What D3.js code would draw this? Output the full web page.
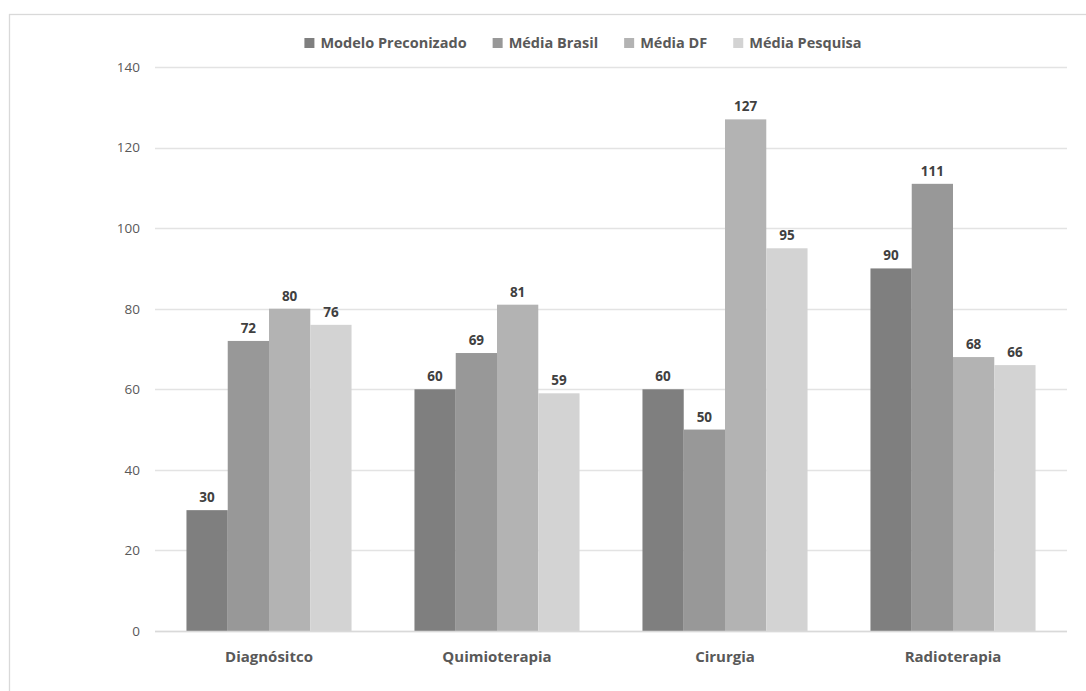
<!DOCTYPE html>
<html><head><meta charset="utf-8">
<script src="https://cdn.jsdelivr.net/npm/d3@7"></script>
<style>body{margin:0;background:#fff}svg{display:block}</style>
</head><body>
<svg id="c" width="1086" height="691"></svg>
<script>
const categories = ["Diagnósitco", "Quimioterapia", "Cirurgia", "Radioterapia"];
const seriesNames = ["Modelo Preconizado", "Média Brasil", "Média DF", "Média Pesquisa"];
const modeloPreconizado = [30, 60, 60, 90];
const mediaBrasil = [72, 69, 50, 111];
const mediaDF = [80, 81, 127, 68];
const mediaPesquisa = [76, 59, 95, 66];
const yTicks = [0, 20, 40, 60, 80, 100, 120, 140];
const colors = ["#7f7f7f", "#989898", "#b3b3b3", "#d3d3d3"];

const seriesValues = [modeloPreconizado, mediaBrasil, mediaDF, mediaPesquisa];
const FONT = "'Open Sans', sans-serif";
const svg = d3.select("#c");

// outer border
svg.append("rect").attr("x", 9.5).attr("y", 14.5).attr("width", 1100).attr("height", 700)
  .attr("fill", "none").attr("stroke", "#d9d9d9").attr("stroke-width", 1.3);

const x0 = d3.scaleBand().domain(categories).range([155, 1067]).paddingInner(0.276).paddingOuter(0.138);
const x1 = d3.scaleBand().domain(seriesNames).range([0, x0.bandwidth()]).padding(0);
const y = d3.scaleLinear().domain([0, 140]).range([631, 67]);

// gridlines
svg.append("g").selectAll("line").data(yTicks).join("line")
  .attr("x1", 155).attr("x2", 1067)
  .attr("y1", d => Math.round(y(d)) + 0.5).attr("y2", d => Math.round(y(d)) + 0.5)
  .attr("stroke", "#e3e3e3").attr("stroke-width", 1.3);

// y axis labels
const yAxis = d3.axisLeft(y).tickValues(yTicks).tickSize(0).tickPadding(0);
const gy = svg.append("g").attr("transform", "translate(140,0)").call(yAxis);
gy.select(".domain").remove();
gy.selectAll("text").attr("fill", "#595959").style("font-family", FONT).style("font-size", "13.5px");

// bars
const groups = svg.append("g").selectAll("g").data(categories).join("g")
  .attr("transform", d => `translate(${x0(d)},0)`);
groups.selectAll("rect").data((c, i) => seriesNames.map((s, j) => ({s, j, v: seriesValues[j][i]}))).join("rect")
  .attr("x", d => x1(d.s)).attr("width", x1.bandwidth())
  .attr("y", d => y(d.v)).attr("height", d => y(0) - y(d.v))
  .attr("fill", d => colors[d.j]);
groups.selectAll("text").data((c, i) => seriesNames.map((s, j) => ({s, j, v: seriesValues[j][i]}))).join("text")
  .attr("x", d => x1(d.s) + x1.bandwidth() / 2).attr("y", d => y(d.v) - 8)
  .attr("text-anchor", "middle").attr("fill", "#404040")
  .style("font-family", FONT).style("font-size", "13.5px").style("font-weight", "bold")
  .text(d => d.v);

// x axis baseline
svg.append("line").attr("x1", 155).attr("x2", 1067).attr("y1", 631.5).attr("y2", 631.5)
  .attr("stroke", "#d9d9d9").attr("stroke-width", 1.3);

// category labels
const xAxis = d3.axisBottom(x0).tickSize(0).tickPadding(0);
const gx = svg.append("g").attr("transform", "translate(0,651)").call(xAxis);
gx.select(".domain").remove();
gx.selectAll("text").attr("fill", "#595959").style("font-family", FONT).style("font-size", "15px").style("font-weight", "bold");

// legend
const leg = svg.append("g");
const items = leg.selectAll("g").data(seriesNames).join("g");
items.append("rect").attr("width", 10).attr("height", 10).attr("y", -5).attr("fill", (d, i) => colors[i]);
items.append("text").attr("x", 16).attr("dy", "0.35em").attr("fill", "#595959")
  .style("font-family", FONT).style("font-size", "14.5px").style("font-weight", "bold").text(d => d);
let pos = 0;
const offs = [];
items.each(function () {
  offs.push(pos);
  pos += this.getBBox().width + 26;
});
const total = pos - 26;
const startX = 583 - total / 2;
items.attr("transform", (d, i) => `translate(${startX + offs[i]},43)`);
</script>
</body></html>
